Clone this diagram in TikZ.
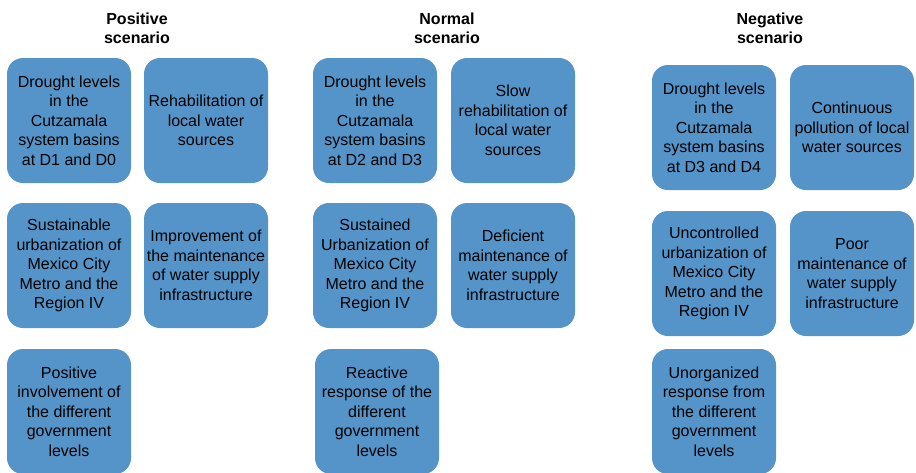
\documentclass[tikz,border=0pt]{standalone}
\usepackage{fontspec}
\setmainfont{Liberation Sans}
\definecolor{boxblue}{RGB}{84,148,200}
\begin{document}
\begin{tikzpicture}[x=1pt,y=-1pt,
  box/.style={rounded corners=16pt, fill=boxblue, minimum width=124pt, minimum height=125pt,
    align=center, inner sep=0pt, font=\fontsize{16}{19.5}\selectfont},
  head/.style={align=center, inner sep=0pt, font=\fontsize{16}{19}\selectfont\bfseries}]
\useasboundingbox (0,0) rectangle (916,472);
% headers
\node[head] (hp) at (137,28) {Positive\\scenario};
\node[head] (hn) at (447,28) {Normal\\scenario};
\node[head] (hg) at (770,28) {Negative\\scenario};
% positive
\node[box] (p1) at (69,120.5) {Drought levels\\in the\\Cutzamala\\system basins\\at D1 and D0};
\node[box] (p2) at (206,120.5) {Rehabilitation of\\local water\\sources};
\node[box] (p3) at (69,265.5) {Sustainable\\urbanization of\\Mexico City\\Metro and the\\Region IV};
\node[box] (p4) at (206,265.5) {Improvement of\\the maintenance\\of water supply\\infrastructure};
\node[box] (p5) at (69,411.5) {Positive\\involvement of\\the different\\government\\levels};
% normal
\node[box] (n1) at (375,120.5) {Drought levels\\in the\\Cutzamala\\system basins\\at D2 and D3};
\node[box] (n2) at (513,120.5) {Slow\\rehabilitation of\\local water\\sources};
\node[box] (n3) at (375,265.5) {Sustained\\Urbanization of\\Mexico City\\Metro and the\\Region IV};
\node[box] (n4) at (513,265.5) {Deficient\\maintenance of\\water supply\\infrastructure};
\node[box] (n5) at (377,411.5) {Reactive\\response of the\\different\\government\\levels};
% negative
\node[box] (g1) at (714,127.5) {Drought levels\\in the\\Cutzamala\\system basins\\at D3 and D4};
\node[box] (g2) at (852,127.5) {Continuous\\pollution of local\\water sources};
\node[box] (g3) at (714,273.5) {Uncontrolled\\urbanization of\\Mexico City\\Metro and the\\Region IV};
\node[box] (g4) at (852,273.5) {Poor\\maintenance of\\water supply\\infrastructure};
\node[box] (g5) at (714,411.5) {Unorganized\\response from\\the different\\government\\levels};
\end{tikzpicture}
\end{document}
